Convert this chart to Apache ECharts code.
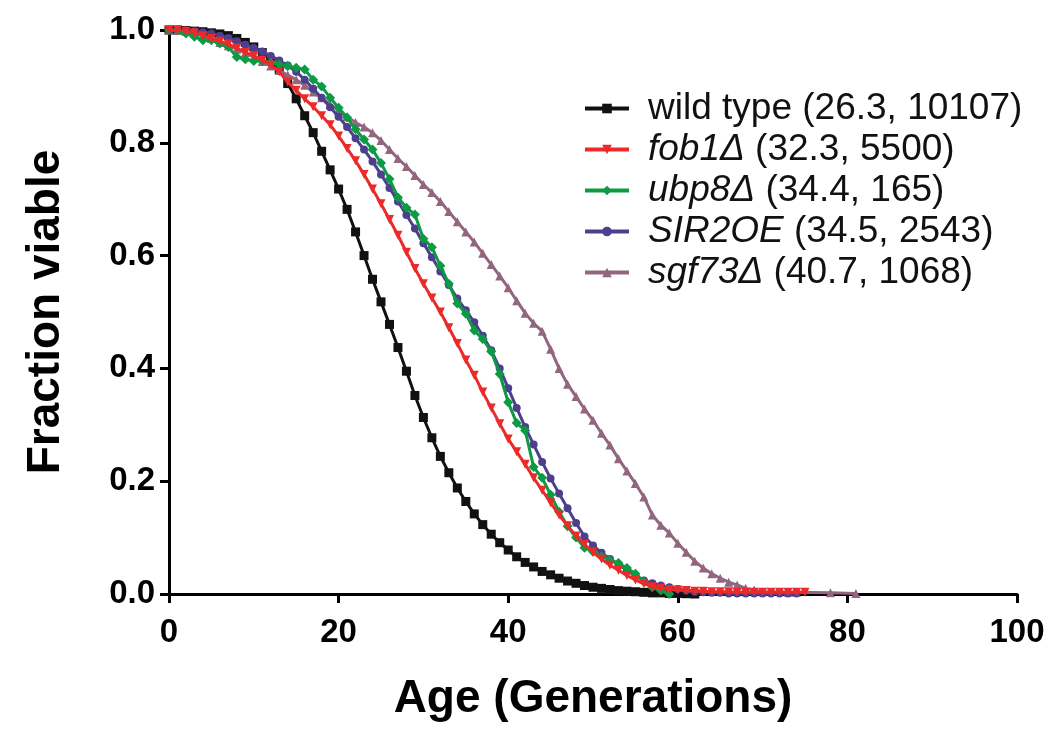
<!DOCTYPE html>
<html>
<head>
<meta charset="utf-8">
<script src="https://cdn.jsdelivr.net/npm/echarts@6/dist/echarts.min.js"></script>
<style>html,body{margin:0;padding:0;background:#fff;}#c{width:1051px;height:730px;}</style>
</head>
<body>
<div id="c"></div>
<script>
// Age (generations) at which each value is read
var generations = [0,1,2,3,4,5,6,7,8,9,10,11,12,13,14,15,16,17,18,19,20,21,22,23,24,25,26,27,28,29,30,31,32,33,34,35,36,37,38,39,40,41,42,43,44,45,46,47,48,49,50,51,52,53,54,55,56,57,58,59,60,61,62,63,64,65,66,67,68,69,70,71,72,73,74,75,76,77,78,79,80,81];

var seriesNames = ['wild type (26.3, 10107)', 'fob1Δ (32.3, 5500)', 'ubp8Δ (34.4, 165)', 'SIR2OE (34.5, 2543)', 'sgf73Δ (40.7, 1068)'];

var wildType = [1.0,1.0,0.999,0.998,0.997,0.995,0.993,0.99,0.985,0.978,0.97,0.96,0.945,0.93,0.905,0.878,0.848,0.818,0.785,0.752,0.718,0.682,0.642,0.60,0.558,0.518,0.478,0.437,0.395,0.352,0.313,0.277,0.244,0.215,0.188,0.164,0.142,0.123,0.106,0.091,0.078,0.066,0.056,0.048,0.040,0.034,0.028,0.023,0.019,0.015,0.012,0.010,0.008,0.006,0.005,0.004,0.003,0.002,0.002,0.001,0.001,0.0005,0.0];

var fob1 = [1.0,1.0,0.998,0.995,0.99,0.985,0.98,0.975,0.968,0.96,0.954,0.947,0.938,0.926,0.908,0.893,0.878,0.864,0.848,0.832,0.812,0.79,0.768,0.744,0.718,0.692,0.664,0.636,0.606,0.577,0.55,0.525,0.5,0.472,0.444,0.415,0.388,0.358,0.33,0.302,0.275,0.252,0.23,0.206,0.184,0.162,0.14,0.121,0.103,0.088,0.074,0.062,0.051,0.042,0.033,0.025,0.018,0.013,0.01,0.008,0.007,0.006,0.005,0.005,0.004,0.004,0.004,0.003,0.003,0.003,0.003,0.003,0.003,0.003,0.003,0.003];

var ubp8 = [1.0,1.0,0.994,0.988,0.982,0.982,0.976,0.97,0.952,0.948,0.945,0.945,0.942,0.939,0.936,0.933,0.93,0.912,0.9,0.88,0.862,0.845,0.824,0.806,0.788,0.764,0.736,0.703,0.685,0.673,0.63,0.615,0.582,0.55,0.515,0.497,0.467,0.452,0.43,0.39,0.34,0.303,0.29,0.225,0.206,0.176,0.146,0.12,0.1,0.082,0.075,0.067,0.06,0.055,0.046,0.036,0.022,0.012,0.006,0.0];

var sir2oe = [1.0,1.0,0.999,0.998,0.996,0.994,0.99,0.986,0.98,0.974,0.968,0.962,0.954,0.946,0.937,0.926,0.912,0.896,0.88,0.863,0.846,0.828,0.808,0.788,0.767,0.744,0.72,0.696,0.672,0.648,0.622,0.597,0.572,0.548,0.524,0.503,0.482,0.458,0.432,0.4,0.365,0.33,0.296,0.265,0.234,0.205,0.178,0.152,0.126,0.102,0.086,0.073,0.062,0.052,0.042,0.032,0.024,0.019,0.015,0.012,0.009,0.006,0.004,0.003,0.002,0.002,0.001,0.001,0.001,0.001,0.001,0.001,0.001,0.001,0.001];

var sgf73 = [1.0,1.0,0.998,0.995,0.99,0.985,0.978,0.972,0.966,0.96,0.952,0.944,0.936,0.928,0.92,0.912,0.902,0.89,0.88,0.868,0.857,0.846,0.836,0.828,0.818,0.804,0.788,0.772,0.758,0.742,0.726,0.712,0.696,0.678,0.66,0.642,0.624,0.604,0.584,0.564,0.543,0.52,0.498,0.48,0.466,0.434,0.4,0.372,0.35,0.328,0.308,0.285,0.264,0.24,0.218,0.196,0.172,0.14,0.122,0.108,0.09,0.074,0.058,0.046,0.036,0.028,0.021,0.016,0.01,0.007,0.004,null,null,0.003,0.003,null,null,null,0.002,null,null,0.001];

var xTicks = [0, 20, 40, 60, 80, 100];
var yTicks = [0.0, 0.2, 0.4, 0.6, 0.8, 1.0];

function pairs(vals) {
  var out = [];
  for (var i = 0; i < vals.length; i++) out.push([generations[i], vals[i]]);
  return out;
}

var FONT = "'Liberation Sans', Arial, Helvetica, sans-serif";
var chart = echarts.init(document.getElementById('c'), null, {renderer: 'canvas'});

function mk(name, vals, color, symbol, size, rot, z) {
  return {
    name: name, type: 'line', data: pairs(vals), connectNulls: true,
    symbol: symbol, symbolSize: size, symbolRotate: rot, showAllSymbol: true,
    lineStyle: {color: color, width: 3}, itemStyle: {color: color, borderWidth: 0},
    z: z, animation: false, emphasis: {disabled: true}
  };
}

var italicName = {
  'fob1Δ (32.3, 5500)': ['fob1Δ', ' (32.3, 5500)'],
  'ubp8Δ (34.4, 165)': ['ubp8Δ', ' (34.4, 165)'],
  'SIR2OE (34.5, 2543)': ['SIR2OE', ' (34.5, 2543)'],
  'sgf73Δ (40.7, 1068)': ['sgf73Δ', ' (40.7, 1068)']
};

chart.setOption({
  backgroundColor: '#fff',
  animation: false,
  grid: {left: 169, right: 34, top: 30, bottom: 136, containLabel: false},
  legend: {
    orient: 'vertical', left: 578, top: 85, itemGap: 4, itemWidth: 44, itemHeight: 12,
    data: seriesNames,
    lineStyle: {width: 4},
    textStyle: {fontFamily: FONT, fontSize: 37, color: '#111', padding: [0, 0, 0, 14],
      rich: {i: {fontFamily: FONT, fontSize: 37, fontStyle: 'italic', color: '#111'},
             n: {fontFamily: FONT, fontSize: 37, color: '#111'}}},
    formatter: function (name) {
      var p = italicName[name];
      if (!p) return '{n|' + name + '}';
      return '{i|' + p[0] + '}{n|' + p[1] + '}';
    }
  },
  xAxis: {
    type: 'value', min: 0, max: 100, interval: 20,
    name: 'Age (Generations)', nameLocation: 'middle', nameGap: 82,
    nameTextStyle: {fontFamily: FONT, fontSize: 46, fontWeight: 'bold', color: '#000'},
    axisLine: {show: true, onZero: false, lineStyle: {color: '#000', width: 3}},
    axisTick: {show: true, length: 9, lineStyle: {color: '#000', width: 3}},
    axisLabel: {fontFamily: FONT, fontSize: 33, fontWeight: 'bold', color: '#000', margin: 22,
      formatter: function (v) { return xTicks.indexOf(v) >= 0 ? String(v) : ''; }},
    splitLine: {show: false}
  },
  yAxis: {
    type: 'value', min: 0, max: 1, interval: 0.2,
    name: 'Fraction viable', nameLocation: 'middle', nameGap: 100,
    nameTextStyle: {fontFamily: FONT, fontSize: 46, fontWeight: 'bold', color: '#000'},
    axisLine: {show: true, onZero: false, lineStyle: {color: '#000', width: 3}},
    axisTick: {show: true, length: 9, lineStyle: {color: '#000', width: 3}},
    axisLabel: {fontFamily: FONT, fontSize: 33, fontWeight: 'bold', color: '#000', margin: 14,
      formatter: function (v) { return v.toFixed(1); }},
    splitLine: {show: false}
  },
  series: [
    mk(seriesNames[0], wildType, '#111111', 'rect', 9, 0, 2),
    mk(seriesNames[1], fob1, '#EC2A2A', 'triangle', 9, 180, 6),
    mk(seriesNames[2], ubp8, '#0C9A44', 'diamond', 10, 0, 5),
    mk(seriesNames[3], sir2oe, '#4E3F8E', 'circle', 8, 0, 4),
    mk(seriesNames[4], sgf73, '#92667F', 'triangle', 9, 0, 3)
  ]
});
</script>
</body>
</html>
